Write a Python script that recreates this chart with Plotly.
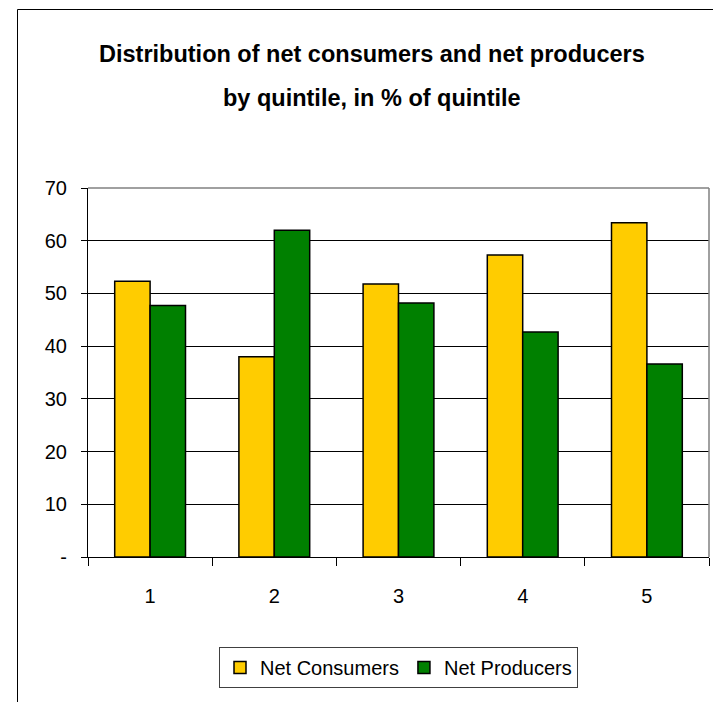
import plotly.graph_objects as go

categories = ["1", "2", "3", "4", "5"]
net_consumers = [52.3, 38.0, 51.8, 57.3, 63.4]
net_producers = [47.7, 62.0, 48.2, 42.7, 36.6]
y_tickvals = [0, 10, 20, 30, 40, 50, 60, 70]
y_ticktext = ["-", "10", "20", "30", "40", "50", "60", "70"]
title_lines = ["Distribution of net consumers and net producers",
               "by quintile, in % of quintile"]

FONT = "Liberation Sans Narrow, Arial Narrow, Liberation Sans, Arial, sans-serif"

# page has an 8px body margin; figure sized so page window 721x702 is filled
OFF = 8
W, H = 721 - OFF, 702 - OFF
# plot area in page (reference) pixels
PX0, PX1, PY0, PY1 = 88, 709, 188, 557
L, R, T, B = PX0 - OFF, W - (PX1 - OFF), PY0 - OFF, H - (PY1 - OFF)
PW, PH = PX1 - PX0, PY1 - PY0


def px_x(x):
    return (x - PX0) / PW


def px_y(y):
    return (PY1 - y) / PH


fig = go.Figure()
fig.add_trace(go.Bar(x=categories, y=net_consumers, name="Net Consumers",
                     marker=dict(color="#FFCC00", line=dict(color="black", width=1.5))))
fig.add_trace(go.Bar(x=categories, y=net_producers, name="Net Producers",
                     marker=dict(color="#008000", line=dict(color="black", width=1.5))))

fig.update_layout(
    width=W, height=H,
    margin=dict(l=L, r=R, t=T, b=B, pad=0),
    paper_bgcolor="white", plot_bgcolor="white",
    barmode="group", bargap=0.43, bargroupgap=0,
    font=dict(family=FONT, size=20, color="black"),
    showlegend=True,
    legend=dict(orientation="h", x=0.5, xanchor="center", y=px_y(647), yanchor="top",
                bordercolor="#404040", borderwidth=1, bgcolor="white",
                font=dict(family=FONT, size=20, color="black"),
                itemwidth=30, tracegroupgap=0),
)
fig.update_xaxes(type="category", tickson="boundaries", ticks="outside", ticklen=8,
                 tickcolor="black", showline=True, linecolor="black", linewidth=1,
                 showgrid=False, tickfont=dict(family=FONT, size=20), ticklabelstandoff=21)
fig.update_yaxes(range=[0, 70], tickvals=y_tickvals, ticktext=y_ticktext,
                 ticks="outside", ticklen=6, tickcolor="black",
                 showline=True, linecolor="black", linewidth=1,
                 showgrid=True, gridcolor="black", gridwidth=1, zeroline=False,
                 tickfont=dict(family=FONT, size=20), ticklabelstandoff=10)

# plot-area top and right borders (gray)
fig.add_shape(type="line", xref="paper", yref="paper", x0=0, x1=1, y0=1, y1=1,
              line=dict(color="#808080", width=1.5), layer="above")
fig.add_shape(type="line", xref="paper", yref="paper", x0=1, x1=1, y0=0, y1=1,
              line=dict(color="#808080", width=1.5), layer="above")
# outer chart border (left and top visible)
fig.add_shape(type="line", xref="paper", yref="paper", x0=px_x(17.5), x1=px_x(730),
              y0=px_y(9.5), y1=px_y(9.5), line=dict(color="black", width=1))
fig.add_shape(type="line", xref="paper", yref="paper", x0=px_x(17.5), x1=px_x(17.5),
              y0=px_y(9.5), y1=px_y(710), line=dict(color="black", width=1))

for txt, yc in zip(title_lines, [54, 98]):
    fig.add_annotation(text="<b>" + txt + "</b>", xref="paper", yref="paper",
                       x=px_x(371.5), y=px_y(yc), xanchor="center", yanchor="middle",
                       showarrow=False, font=dict(family=FONT, size=23.5, color="black"))

fig.write_html("out.html")
